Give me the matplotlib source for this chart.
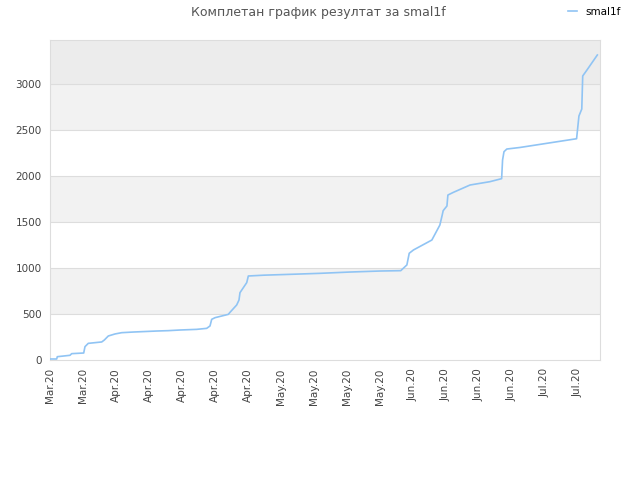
import numpy as np
import matplotlib.pyplot as plt

# days since Mar 18 2020 and cumulative result
days = [0.15, 1.42, 1.55, 2.82, 4.24, 4.6, 7.15, 7.42, 8.12, 10.97, 11.52, 12.37,
        13.79, 15.21, 17.67, 22.63, 25.1, 27.58, 31.12, 33.24, 33.94, 34.3, 35.0,
        37.82, 38.18, 39.6, 40.09, 40.3, 41.73, 42.07, 45.4, 51.5, 57.3, 63.6,
        69.9, 74.4, 75.7, 76.2, 77.1, 81.0, 82.7, 83.2, 83.4, 84.2, 84.4, 85.6,
        89.1, 93.3, 95.8, 96.0, 96.3, 96.9, 99.7, 111.7, 112.2, 112.8, 113.0,
        113.9, 116.1]
score = [11, 11, 36, 43, 51, 69, 76, 145, 181, 196, 217, 261,
         283, 297, 304, 315, 319, 326, 333, 344, 370, 442, 460,
         496, 518, 598, 652, 732, 841, 913, 922, 932, 942, 956,
         967, 971, 1033, 1160, 1196, 1304, 1467, 1576, 1623, 1674, 1793, 1823,
         1902, 1938, 1971, 2174, 2264, 2293, 2310, 2405, 2652, 2728, 3087,
         3152, 3315]

tick_labels = ["Mar.20", "Mar.20", "Apr.20", "Apr.20", "Apr.20", "Apr.20", "Apr.20",
               "May.20", "May.20", "May.20", "May.20", "Jun.20", "Jun.20", "Jun.20",
               "Jun.20", "Jul.20", "Jul.20"]

fig = plt.figure(figsize=(6.4, 4.8), dpi=100)
ax = fig.add_axes([50/640, 120/480, 550/640, 320/480])

ymax = 3478
bands = [(0, 500, "#ffffff"), (500, 1000, "#f2f2f2"), (1000, 1500, "#ffffff"),
         (1500, 2000, "#f2f2f2"), (2000, 2500, "#ffffff"), (2500, 3000, "#f2f2f2"),
         (3000, ymax, "#ececec")]
for lo, hi, c in bands:
    ax.axhspan(lo, hi, color=c, zorder=0, lw=0)
for yv in range(500, 3500, 500):
    ax.axhline(yv, color="#dddddd", lw=0.8, zorder=1)

ax.plot(days, score, color="#90c4f4", lw=1.2, zorder=3, label="smal1f")

ax.set_xlim(0, 550 / (33 / 7))
ax.set_ylim(0, ymax)
ax.set_xticks(np.arange(len(tick_labels)) * 7)
ax.set_xticklabels(tick_labels, rotation=90, fontsize=7.5, color="#444444")
ax.set_yticks([0, 500, 1000, 1500, 2000, 2500, 3000])
ax.set_yticklabels(["0", "500", "1000", "1500", "2000", "2500", "3000"],
                   fontsize=7.5, color="#444444")
ax.tick_params(length=0, pad=6)
for s in ax.spines.values():
    s.set_color("#dddddd")
    s.set_linewidth(0.8)

fig.text(0.497, 0.988, "Комплетан график резултат за smal1f", ha="center", va="top",
         fontsize=9, color="#555555")
fig.legend(loc="upper right", bbox_to_anchor=(0.985, 1.005), frameon=False,
           fontsize=7.5, handlelength=0.9, handletextpad=0.8)

plt.savefig("out.png", dpi=100)
